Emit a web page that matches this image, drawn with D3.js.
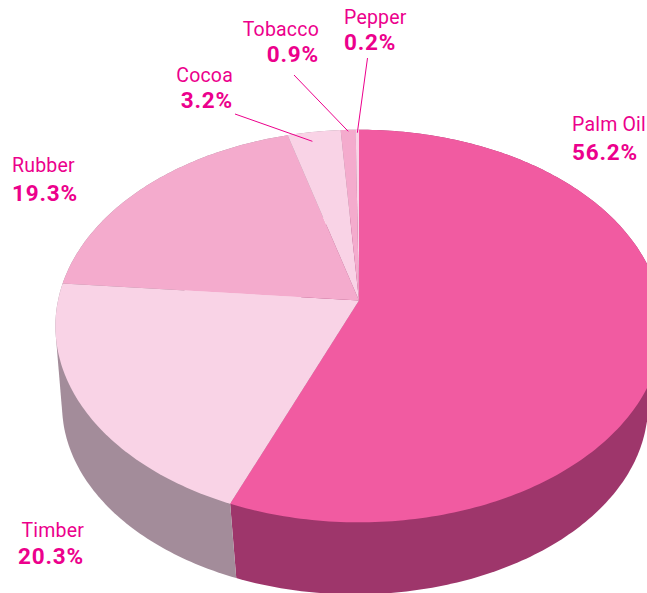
<!DOCTYPE html>
<html>
<head>
<meta charset="utf-8">
<script src="https://cdn.jsdelivr.net/npm/d3@7"></script>
<style>
  html, body { margin: 0; background: #fff; }
  svg { display: block; }
  text { font-family: Roboto, "Open Sans", sans-serif; fill: #ec008c; }
  .name { font-size: 19.5px; letter-spacing: 0.2px; }
  .share { font-size: 22.5px; font-weight: 700; letter-spacing: 0.8px; }
  .leader { stroke: #ec008c; stroke-width: 1; fill: none; }
</style>
</head>
<body>
<div id="chart"></div>
<script>
const categories = ['Palm Oil', 'Timber', 'Rubber', 'Cocoa', 'Tobacco', 'Pepper'];
const shares = [56.2, 20.3, 19.3, 3.2, 0.9, 0.2];
const topColors = ['#f15ba1', '#f9d3e6', '#f4abcd', '#f9d3e6', '#f4abcd', '#f9d3e6'];
const sideColors = ['#9e366b', '#a38c9a', '#a38c9a', '#a38c9a', '#a38c9a', '#a38c9a'];

// label anchors, kept apart from the values
const labels = {
  'Palm Oil': { x: 572, name: 131, share: 160, anchor: 'start' },
  'Timber': { x: 84, name: 537, share: 564, anchor: 'end' },
  'Rubber': { x: 12, name: 172, share: 201, anchor: 'start' },
  'Cocoa': { x: 233, name: 82, share: 108, anchor: 'end' },
  'Tobacco': { x: 319, name: 36, share: 62, anchor: 'end' },
  'Pepper': { x: 344, name: 24, share: 50, anchor: 'start' },
};
// t = how far round the slice the line lands, r = how far out
const leaders = {
  'Cocoa': { from: [235, 114], t: 0.42, r: 0.94 },
  'Tobacco': { from: [294, 75], t: 0.5, r: 0.99 },
  'Pepper': { from: [367.5, 58], t: 0.5, r: 0.98 },
};

const width = 647;
const height = 593;
const svg = d3.select('#chart').append('svg')
  .attr('width', width)
  .attr('height', height);

// the pie sits in perspective, so its hub is not the middle of the ellipse
const topDisc = { x: 359, y: 300.5, a: 301, b: 193, k: 0.13 };
const bottomDisc = { x: 355, y: 390, a: 292, b: 188, k: 0.08 };

const project = function (disc, angle, r = 1) {
  const u = Math.sin(angle) * r;
  const v = -Math.cos(angle) * r;
  const w = 1 - disc.k * v;
  return [disc.x + disc.a * u / w, disc.y + disc.b * v / w];
};
const rim = function (disc, d) {
  const steps = Math.max(2, Math.ceil((d.endAngle - d.startAngle) * 60));
  return d3.range(steps + 1).map(i => project(disc, d.startAngle + (d.endAngle - d.startAngle) * i / steps));
};

const slices = d3.pie().sort(null).value(d => d.share)(
  categories.map((name, i) => ({ name, share: shares[i], top: topColors[i], side: sideColors[i] }))
);
const line = d3.line();

// wall first, the lid goes on top of it
// hull gives the straight tangent down the left edge of the wall
svg.append('g').attr('class', 'sides')
  .selectAll('path')
  .data(slices)
  .join('path')
  .attr('fill', d => d.data.side)
  .attr('d', d => line(d3.polygonHull([...rim(topDisc, d), ...rim(bottomDisc, d)])) + 'Z');

svg.append('g').attr('class', 'tops')
  .selectAll('path')
  .data(slices)
  .join('path')
  .attr('fill', d => d.data.top)
  .attr('d', d => line([[topDisc.x, topDisc.y], ...rim(topDisc, d)]) + 'Z');

svg.append('g').attr('class', 'leaders')
  .selectAll('path')
  .data(slices.filter(d => leaders[d.data.name]))
  .join('path')
  .attr('class', 'leader')
  .attr('d', d => {
    const { from, t, r } = leaders[d.data.name];
    return line([from, project(topDisc, d.startAngle + (d.endAngle - d.startAngle) * t, r)]);
  });

// name and share are two lines of one text
const label = svg.append('g').attr('class', 'labels')
  .selectAll('text')
  .data(slices)
  .join('text')
  .attr('text-anchor', d => labels[d.data.name].anchor);
label.append('tspan')
  .attr('class', 'name')
  .attr('x', d => labels[d.data.name].x)
  .attr('y', d => labels[d.data.name].name)
  .text(d => d.data.name);
label.append('tspan')
  .attr('class', 'share')
  .attr('x', d => labels[d.data.name].x)
  .attr('y', d => labels[d.data.name].share)
  .text(d => `${d.data.share.toFixed(1)}%`);
</script>
</body>
</html>
